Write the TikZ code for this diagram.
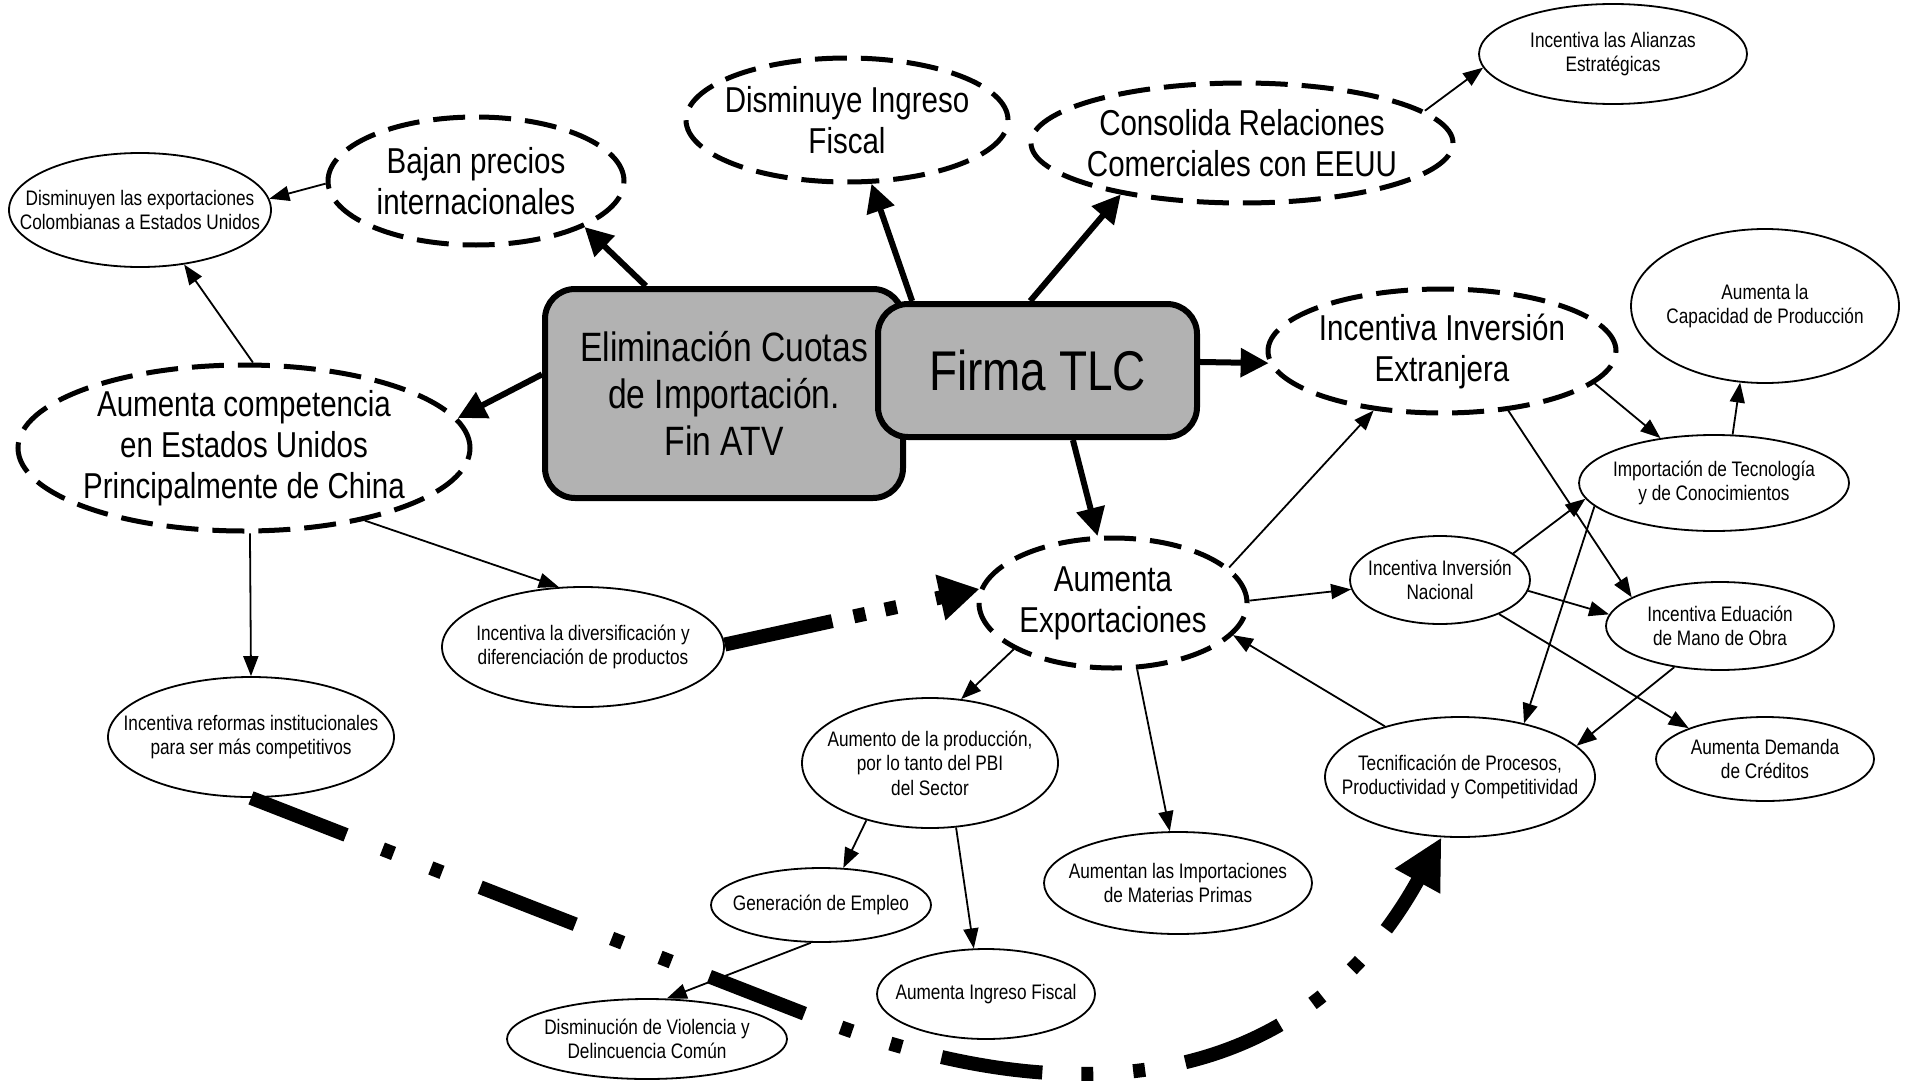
\documentclass[tikz,border=0pt]{standalone}
\usepackage{fontspec}
\setmainfont[FakeStretch=0.82]{Liberation Sans}
\usetikzlibrary{shapes.geometric,arrows.meta}
\newcommand\szS{\fontsize{21pt}{24.5pt}\selectfont}
\newcommand\szB{\fontsize{36pt}{41pt}\selectfont}
\newcommand\szE{\fontsize{41pt}{47pt}\selectfont}
\newcommand\szF{\fontsize{56pt}{64pt}\selectfont}
\definecolor{boxgray}{RGB}{178,178,178}
\begin{document}
\begin{tikzpicture}[x=1pt,y=-1pt,
  labS/.style={align=center,font=\szS,inner sep=0pt},
  labB/.style={align=center,font=\szB,inner sep=0pt},
  sm/.style={ellipse,draw,line width=1.8pt,inner sep=0pt},
  bg/.style={ellipse,draw,line width=5pt,dash pattern=on 32pt off 14pt,inner sep=0pt},
  sz/.style 2 args={minimum width=#1pt,minimum height=#2pt},
  bx/.style={rectangle,rounded corners=30pt,draw,line width=6pt,fill=boxgray,align=center,inner sep=0pt},
  thk/.style={line width=6pt,-{Triangle[length=28pt,width=28pt]}},
  thn/.style={line width=1.8pt,-{Triangle[length=20pt,width=15pt]}},
  dd1/.style={line width=14pt,dash pattern=on 110pt off 22pt on 12pt off 20pt on 12pt off 40pt,-{Triangle[length=40pt,width=44pt]}},
  dd2/.style={line width=14pt,dash pattern=on 102pt off 39pt on 12pt off 40pt on 12pt off 41pt,-{Triangle[length=50pt,width=48pt]}}
]
\fill[white] (0,0) rectangle (1913,1081);
\useasboundingbox (0,0) rectangle (1913,1081);
\clip (0,0) rectangle (1913,1081);

% central boxes
\node[bx,minimum width=358pt,minimum height=209pt,font=\szE] (EL) at (724,393.5) {Eliminación Cuotas\\de Importación.\\Fin ATV};
\node[bx,minimum width=319pt,minimum height=133pt,font=\szF] (FT) at (1037.5,370.5) {Firma TLC};

% dashed ellipses
\node[bg,sz={296}{128},label={[labB]center:{Bajan precios\\internacionales}}] (BP) at (476,181) {};
\node[bg,sz={322}{124},label={[labB]center:{Disminuye Ingreso\\Fiscal}}] (DF) at (847,120) {};
\node[bg,sz={422}{120},label={[labB]center:{Consolida Relaciones\\Comerciales con EEUU}}] (CR) at (1242,143) {};
\node[bg,sz={452}{166},label={[labB]center:{Aumenta competencia\\en Estados Unidos\\Principalmente de China}}] (AC) at (244,448) {};
\node[bg,sz={348}{124},label={[labB]center:{Incentiva Inversión\\Extranjera}}] (IE) at (1442,351) {};
\node[bg,sz={268}{130},label={[labB]center:{Aumenta\\Exportaciones}}] (AE) at (1113,603) {};

% thin ellipses
\node[sm,sz={262}{114},label={[labS]center:{Disminuyen las exportaciones\\Colombianas a Estados Unidos}}] (DE) at (140,210) {};
\node[sm,sz={268}{100},label={[labS]center:{Incentiva las Alianzas\\Estratégicas}}] (AL) at (1613,54) {};
\node[sm,sz={268}{154},label={[labS]center:{Aumenta la\\Capacidad de Producción}}] (CP) at (1765,306) {};
\node[sm,sz={270}{96},label={[labS]center:{Importación de Tecnología\\y de Conocimientos}}] (IT) at (1714,483) {};
\node[sm,sz={180}{88},label={[labS]center:{Incentiva Inversión\\Nacional}}] (IN) at (1440,580) {};
\node[sm,sz={228}{88},label={[labS]center:{Incentiva Eduación\\de Mano de Obra}}] (ED) at (1720,626) {};
\node[sm,sz={218}{84},label={[labS]center:{Aumenta Demanda\\de Créditos}}] (DC) at (1765,759) {};
\node[sm,sz={270}{120},label={[labS]center:{Tecnificación de Procesos,\\Productividad y Competitividad}}] (TP) at (1460,777) {};
\node[sm,sz={282}{120},label={[labS]center:{Incentiva la diversificación y\\diferenciación de productos}}] (DV) at (583,647) {};
\node[sm,sz={286}{120},label={[labS]center:{Incentiva reformas institucionales\\para ser más competitivos}}] (IR) at (251,737) {};
\node[sm,sz={256}{130},label={[labS]center:{Aumento de la producción,\\por lo tanto del PBI\\del Sector}}] (AP) at (930,763) {};
\node[sm,sz={220}{74},label={[labS]center:{Generación de Empleo}}] (GE) at (821,905) {};
\node[sm,sz={268}{102},label={[labS]center:{Aumentan las Importaciones\\de Materias Primas}}] (AI) at (1178,883) {};
\node[sm,sz={218}{90},label={[labS]center:{Aumenta Ingreso Fiscal}}] (AF) at (986,994) {};
\node[sm,sz={280}{80},label={[labS]center:{Disminución de Violencia y\\Delincuencia Común}}] (VI) at (647,1039) {};

% thick arrows
\draw[thk] (EL.126) -- (BP.-23);
\draw[thk] (EL.174) -- (AC.8);
\draw[thk] (FT.151) -- (DF.-69);
\draw[thk] (FT.96) -- (CR.203);
\draw[thk] (FT.3) -- (IE.184);
\draw[thk] (FT.-63) -- (AE.103);

% thin arrows
\draw[thn] (BP.181) -- (DE.5);
\draw[thn] (AC.84) -- (DE.-51);
\draw[thn] (AC.-86) -- (IR.north);
\draw[thn] (AC.-31) -- (DV.112);
\draw[thn] (CR.10) -- (AL.186);
\draw[thn] (AE.17) -- (IE.-139);
\draw[thn] (AE.1) -- (IN.186);
\draw[thn] (AE.-155) -- (AP.64);
\draw[thn] (AE.-70) -- (AI.99);
\draw[thn] (TP.146) -- (AE.-15);
\draw[thn] (IE.-12) -- (IT.140);
\draw[thn] (IE.-42) -- (ED.162);
\draw[thn] (IT.69) -- (CP.-108);
\draw[thn] (IT.191) -- (TP.40);
\draw[thn] (IN.20) -- (IT.187);
\draw[thn] (IN.-7) -- (ED.174);
\draw[thn] (IN.-30) -- (DC.158);
\draw[thn] (ED.-138) -- (TP.15);
\draw[thn] (AP.-138) -- (GE.59);
\draw[thn] (AP.-68) -- (AF.105);
\draw[thn] (GE.-105) -- (VI.64);

% dash-dot-dot connectors
\draw[dd1] (DV.1) -- (AE.174);
\draw[dd2] (IR.south) -- (808,1015) .. controls (1087,1125) and (1307,1082) .. (TP.-107);
\end{tikzpicture}
\end{document}
